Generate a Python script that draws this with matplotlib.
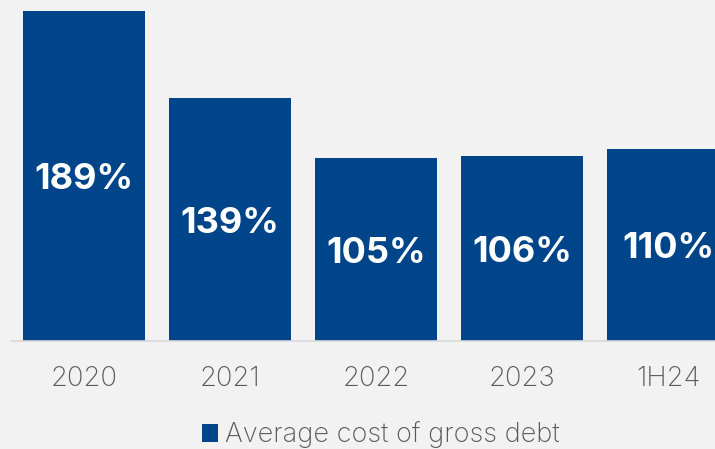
import matplotlib
matplotlib.use("Agg")
import matplotlib.pyplot as plt
from matplotlib.patches import Patch
from matplotlib.transforms import offset_copy

categories = ["2020", "2021", "2022", "2023", "1H24"]
values = [189, 139, 105, 106, 110]
labels = ["189%", "139%", "105%", "106%", "110%"]
series_name = "Average cost of gross debt"

bg = "#f2f2f2"
bar_color = "#00448a"
text_gray = "#595959"

fig = plt.figure(figsize=(7.15, 4.49), dpi=100, facecolor=bg)
ax = fig.add_axes([11 / 715, 1 - 341 / 449, 704 / 715, 341 / 449], facecolor=bg)

x = list(range(len(categories)))
ax.bar(x, values, width=0.836, color=bar_color, zorder=2)

# value labels: cap height centred on the middle of each bar
label_size = 26
cap_shift = offset_copy(ax.transData, fig=fig, x=0, y=-0.727 * label_size / 2, units="points")
for xi, v, lab in zip(x, values, labels):
    ax.text(xi, v / 2, lab, ha="center", va="baseline", color="white",
            fontsize=label_size, fontweight="bold", family="Inter", zorder=3,
            transform=cap_shift)

ax.set_xlim(-0.5, 4.32)
ax.set_ylim(0, 195.4)
ax.set_yticks([])
ax.set_xticks(x)
ax.set_xticklabels(categories, fontsize=19.8, color=text_gray, family="Inter",
                   fontweight="light")
ax.tick_params(axis="x", length=0, pad=18)
for side in ["top", "right", "left"]:
    ax.spines[side].set_visible(False)
ax.spines["bottom"].set_color("#d9d9d9")
ax.spines["bottom"].set_linewidth(1.2)

handle = Patch(facecolor=bar_color, edgecolor="none")
fig.legend([handle], [series_name], loc="center", bbox_to_anchor=(381 / 715, 1 - 435 / 449),
           frameon=False, handlelength=0.6, handleheight=0.6, handletextpad=0.25,
           prop={"family": "Inter", "size": 19.5, "weight": "light"},
           labelcolor=text_gray)

fig.savefig("out.png", dpi=100, facecolor=bg)
